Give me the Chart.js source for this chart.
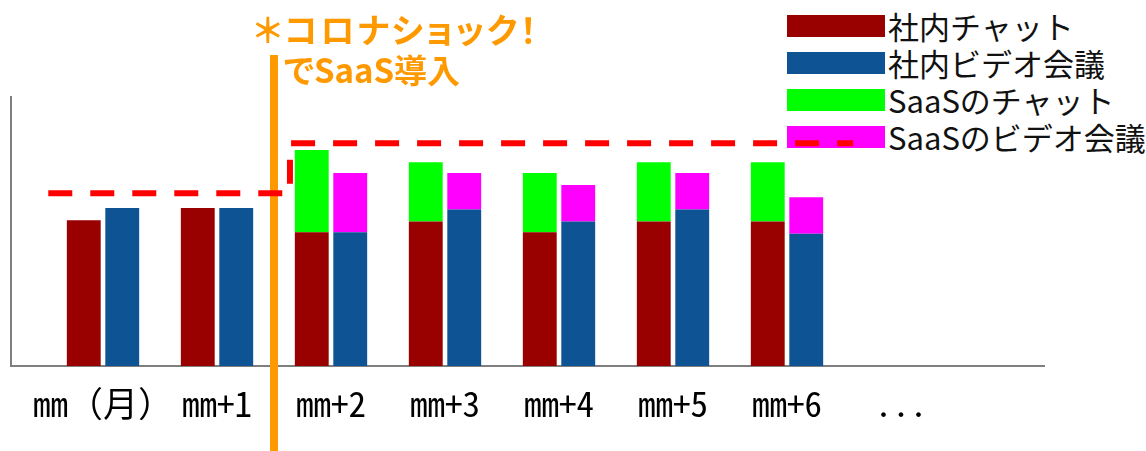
<!DOCTYPE html>
<html lang="ja">
<head>
<meta charset="utf-8">
<title>コロナショック前後のコミュニケーションツール</title>
<script src="https://cdn.jsdelivr.net/npm/chart.js@4/dist/chart.umd.min.js"></script>
<style>
  html, body { margin: 0; padding: 0; background: #fff; }
  #wrap { position: relative; width: 1146px; height: 451px; overflow: hidden; }
  #legend { position: absolute; left: 787px; top: 7px; z-index: 0;
            font-family: 'Noto Sans CJK JP', sans-serif; font-size: 31px; color: #111; }
  #legend .item { display: flex; align-items: center; height: 37px; white-space: nowrap; }
  #legend .box { width: 98px; height: 22px; margin-right: 3px; flex: none; }
  #chartBox { position: absolute; left: 0; top: 0; width: 1146px; height: 451px; z-index: 1; }
  .note { position: absolute; z-index: 2; color: #ff9900; font-weight: bold; font-size: 33px;
          font-family: 'Noto Sans CJK JP', sans-serif; font-feature-settings: 'palt';
          white-space: nowrap; line-height: 1; }
  #note1 { font-size: 34px; letter-spacing: 2.5px; }
</style>
</head>
<body>
<div id="wrap">
  <div id="legend"></div>
  <div id="chartBox"><canvas id="chart"></canvas></div>
  <div class="note" id="note1">＊コロナショック！</div>
  <div class="note" id="note2">でSaaS導入</div>
</div>
<script>
/* categories and series (y axis: 0-100, axis top = 100) */
const months = ['mm（月）', 'mm+1', 'mm+2', 'mm+3', 'mm+4', 'mm+5', 'mm+6', '...'];
const inhouseChat  = [54, 58.5, 49.5, 53.5, 49.5, 53.5, 53.5, null];
const inhouseVideo = [58.5, 58.5, 49.5, 58, 53.5, 58, 49, null];
const saasChat     = [null, null, 30.5, 22, 22, 22, 22, null];
const saasVideo    = [null, null, 22, 13.5, 13.5, 13.5, 13.5, null];

/* annotations: x in category index, y in axis units */
const shockAt = 1.5;
const levelBefore = [-0.48, 1.58, 64];   // from, to, level
const levelAfter  = [1.65, 6.58, 82.5];
const stepUp      = [1.64, 67.5, 76.5];  // x, from, to

const colors = { inChat: '#990000', inVideo: '#0e5394', saasChat: '#00ff00', saasVideo: '#ff00ff',
                 axis: '#7f7f7f', shock: '#ff9900', level: '#ff0000' };

const overlay = {
    id: 'overlay',
    beforeDatasetsDraw(chart) {
        const { ctx, chartArea: a } = chart;
        ctx.save();
        ctx.strokeStyle = colors.axis;
        ctx.lineWidth = 2;
        ctx.beginPath();
        ctx.moveTo(a.left - 35, a.top);
        ctx.lineTo(a.left - 35, a.bottom);
        ctx.lineTo(a.right + 87, a.bottom);
        ctx.stroke();
        ctx.restore();
    },
    afterDatasetsDraw(chart) {
        const { ctx, scales: { x, y } } = chart;
        ctx.save();
        // corona shock marker
        const sx = x.getPixelForValue(shockAt);
        ctx.strokeStyle = colors.shock;
        ctx.lineWidth = 8;
        ctx.beginPath();
        ctx.moveTo(sx, 55);
        ctx.lineTo(sx, chart.height);
        ctx.stroke();
        // red dashed levels
        ctx.strokeStyle = colors.level;
        ctx.lineWidth = 6;
        ctx.setLineDash([24, 18]);
        [levelBefore, levelAfter].forEach(([from, to, lv]) => {
            const py = y.getPixelForValue(lv);
            ctx.beginPath();
            ctx.moveTo(x.getPixelForValue(from), py);
            ctx.lineTo(x.getPixelForValue(to), py);
            ctx.stroke();
        });
        const vx = x.getPixelForValue(stepUp[0]);
        ctx.beginPath();
        ctx.moveTo(vx, y.getPixelForValue(stepUp[1]));
        ctx.lineTo(vx, y.getPixelForValue(stepUp[2]));
        ctx.stroke();
        ctx.restore();
    }
};

const chart = new Chart(document.getElementById('chart'), {
    type: 'bar',
    data: {
        labels: months,
        datasets: [
            { label: '社内チャット', data: inhouseChat, backgroundColor: colors.inChat, stack: 'chat' },
            { label: '社内ビデオ会議', data: inhouseVideo, backgroundColor: colors.inVideo, stack: 'video' },
            { label: 'SaaSのチャット', data: saasChat, backgroundColor: colors.saasChat, stack: 'chat' },
            { label: 'SaaSのビデオ会議', data: saasVideo, backgroundColor: colors.saasVideo, stack: 'video' }
        ]
    },
    options: {
        responsive: true,
        maintainAspectRatio: false,
        animation: false,
        layout: { padding: { left: 46, right: 188, top: 96, bottom: 0 } },
        datasets: { bar: { categoryPercentage: 0.675, barPercentage: 0.88, borderWidth: 0 } },
        plugins: { legend: { display: false }, tooltip: { enabled: false } },
        scales: {
            x: {
                stacked: true,
                grid: { display: false },
                border: { display: false },
                ticks: { padding: 9, color: '#000', maxRotation: 0, minRotation: 0, autoSkip: false,
                         font: { family: "'Noto Sans Mono CJK JP', 'Noto Sans CJK JP', sans-serif", size: 35 } },
                afterFit: s => { s.height = 85; s.paddingLeft = 0; s.paddingRight = 0; }
            },
            y: { stacked: true, display: false, min: 0, max: 100 }
        }
    },
    plugins: [overlay]
});

// legend built from the datasets, placed under the canvas
document.getElementById('legend').innerHTML = chart.data.datasets.map(ds =>
    `<div class="item"><span class="box" style="background:${ds.backgroundColor}"></span>${ds.label}</div>`
).join('');

// notes next to the shock marker
const sx = chart.scales.x.getPixelForValue(shockAt);
Object.assign(document.getElementById('note1').style, { left: (sx - 20) + 'px', top: '12px' });
Object.assign(document.getElementById('note2').style, { left: (sx + 10) + 'px', top: '53px' });
</script>
</body>
</html>
